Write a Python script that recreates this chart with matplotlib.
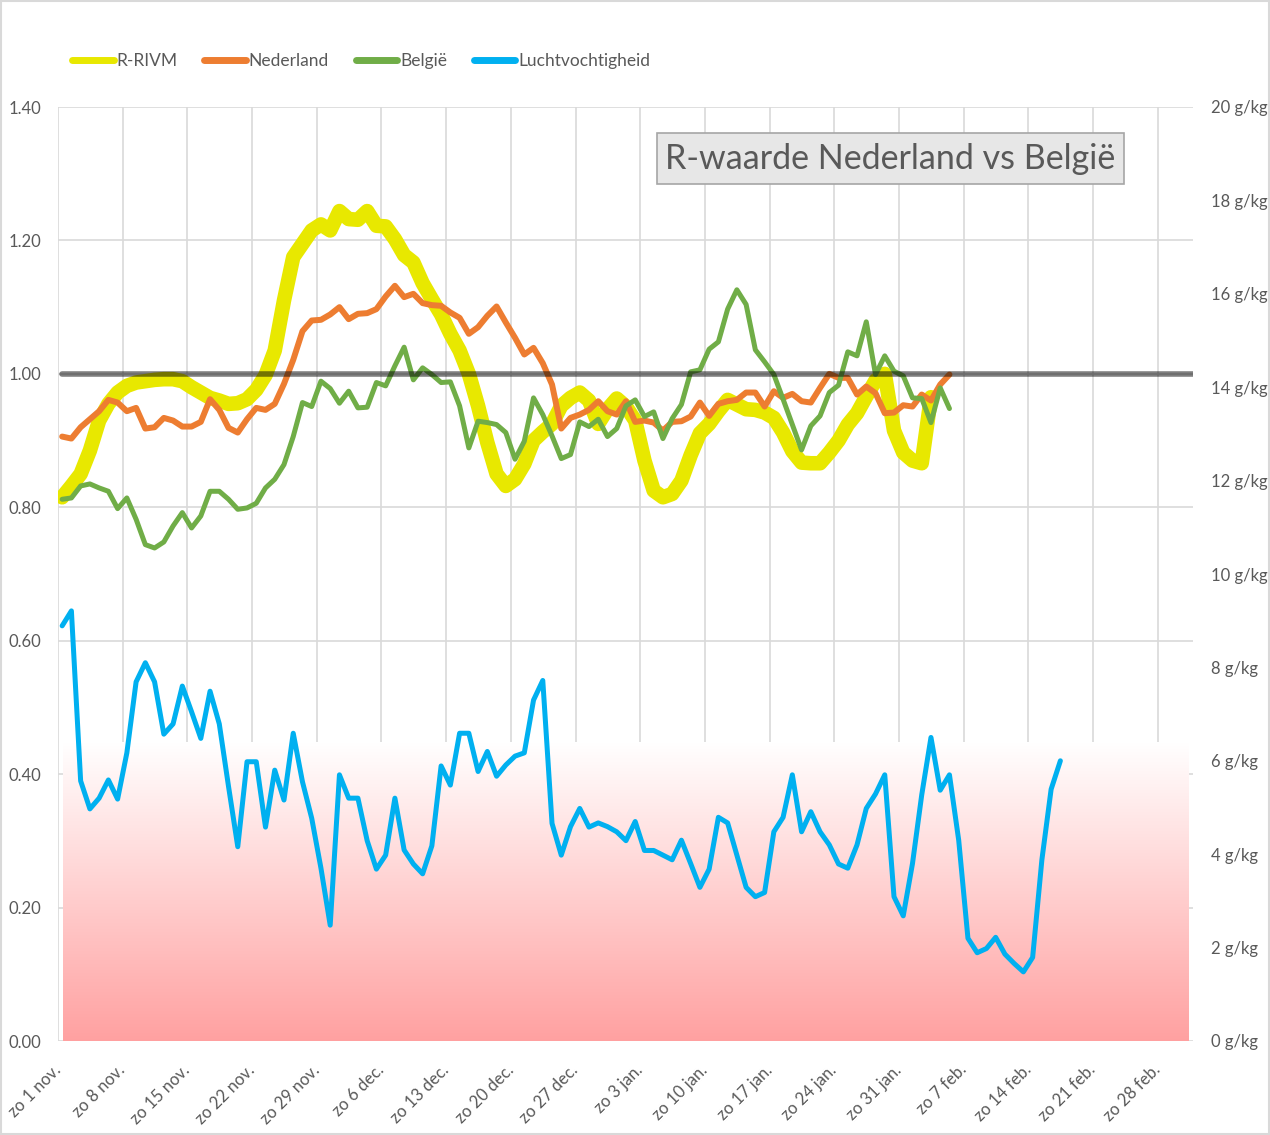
import numpy as np
import matplotlib
matplotlib.use('Agg')
import matplotlib.pyplot as plt
from matplotlib.lines import Line2D
from matplotlib.patches import Rectangle

plt.rcParams['font.family'] = ['Lato', 'DejaVu Sans']

# R-waarden per dag vanaf zo 1 nov.
r_rivm = [0.815, 0.832, 0.850, 0.885, 0.930, 0.955, 0.972, 0.982, 0.987, 0.989,
          0.991, 0.992, 0.992, 0.989, 0.980, 0.972, 0.964, 0.960, 0.955, 0.956,
          0.962, 0.976, 0.998, 1.035, 1.110, 1.175, 1.195, 1.215, 1.224, 1.215,
          1.244, 1.232, 1.231, 1.244, 1.222, 1.221, 1.202, 1.178, 1.167, 1.136,
          1.112, 1.089, 1.060, 1.035, 1.000, 0.952, 0.897, 0.850, 0.832, 0.842,
          0.865, 0.900, 0.913, 0.925, 0.952, 0.964, 0.972, 0.960, 0.925, 0.947,
          0.963, 0.951, 0.930, 0.870, 0.825, 0.815, 0.820, 0.840, 0.878, 0.911,
          0.925, 0.944, 0.961, 0.954, 0.947, 0.946, 0.942, 0.934, 0.912, 0.884,
          0.867, 0.866, 0.866, 0.882, 0.900, 0.924, 0.941, 0.966, 0.990, 1.000,
          0.915, 0.882, 0.870, 0.866, 0.965]

nederland = [0.906, 0.903, 0.920, 0.932, 0.944, 0.961, 0.957, 0.944, 0.949, 0.918,
             0.920, 0.934, 0.930, 0.921, 0.921, 0.928, 0.962, 0.946, 0.919, 0.912,
             0.932, 0.949, 0.946, 0.955, 0.985, 1.021, 1.064, 1.080, 1.081, 1.089,
             1.100, 1.082, 1.090, 1.091, 1.097, 1.116, 1.132, 1.115, 1.120, 1.106,
             1.103, 1.102, 1.092, 1.084, 1.060, 1.070, 1.087, 1.101, 1.077, 1.054,
             1.029, 1.039, 1.016, 0.984, 0.918, 0.934, 0.939, 0.946, 0.959, 0.944,
             0.939, 0.959, 0.928, 0.930, 0.927, 0.915, 0.928, 0.929, 0.936, 0.957,
             0.937, 0.955, 0.959, 0.961, 0.972, 0.972, 0.951, 0.974, 0.964, 0.970,
             0.959, 0.957, 0.979, 1.000, 0.994, 0.994, 0.969, 0.981, 0.971, 0.941,
             0.942, 0.953, 0.951, 0.969, 0.960, 0.984, 0.999]

belgie = [0.812, 0.814, 0.832, 0.835, 0.829, 0.824, 0.798, 0.814, 0.782, 0.744,
          0.739, 0.748, 0.772, 0.792, 0.769, 0.787, 0.824, 0.824, 0.812, 0.797,
          0.799, 0.806, 0.829, 0.842, 0.864, 0.906, 0.957, 0.951, 0.989, 0.978,
          0.956, 0.974, 0.949, 0.950, 0.987, 0.982, 1.012, 1.040, 0.991, 1.009,
          0.999, 0.987, 0.988, 0.952, 0.889, 0.929, 0.927, 0.924, 0.912, 0.872,
          0.899, 0.964, 0.939, 0.907, 0.873, 0.879, 0.928, 0.921, 0.932, 0.906,
          0.918, 0.952, 0.961, 0.936, 0.943, 0.903, 0.933, 0.954, 1.003, 1.006,
          1.037, 1.048, 1.097, 1.126, 1.104, 1.036, 1.018, 0.999, 0.962, 0.924,
          0.886, 0.922, 0.937, 0.972, 0.983, 1.033, 1.027, 1.078, 0.999, 1.027,
          1.004, 0.997, 0.964, 0.963, 0.927, 0.979, 0.948]

# luchtvochtigheid in g/kg
vocht = [8.89, 9.21, 5.57, 4.97, 5.20, 5.59, 5.18, 6.17, 7.69, 8.10,
         7.69, 6.57, 6.79, 7.60, 7.05, 6.48, 7.49, 6.79, 5.45, 4.16,
         5.98, 5.98, 4.58, 5.80, 5.16, 6.59, 5.55, 4.77, 3.70, 2.48,
         5.70, 5.20, 5.20, 4.29, 3.68, 3.98, 5.20, 4.09, 3.79, 3.58,
         4.18, 5.89, 5.48, 6.59, 6.59, 5.77, 6.20, 5.67, 5.91, 6.10,
         6.17, 7.30, 7.72, 4.66, 3.98, 4.59, 4.98, 4.58, 4.67, 4.59,
         4.48, 4.29, 4.70, 4.08, 4.08, 3.98, 3.88, 4.30, 3.80, 3.29,
         3.68, 4.79, 4.67, 3.98, 3.29, 3.09, 3.18, 4.48, 4.79, 5.70,
         4.48, 4.91, 4.48, 4.20, 3.79, 3.70, 4.20, 4.98, 5.29, 5.70,
         3.09, 2.68, 3.80, 5.27, 6.50, 5.37, 5.70, 4.30, 2.20, 1.89,
         1.98, 2.22, 1.86, 1.66, 1.48, 1.79, 3.88, 5.39, 6.00]

drempel = 1.0

week_labels = ['zo 1 nov.', 'zo 8 nov.', 'zo 15 nov.', 'zo 22 nov.', 'zo 29 nov.',
               'zo 6 dec.', 'zo 13 dec.', 'zo 20 dec.', 'zo 27 dec.', 'zo 3 jan.',
               'zo 10 jan.', 'zo 17 jan.', 'zo 24 jan.', 'zo 31 jan.', 'zo 7 feb.',
               'zo 14 feb.', 'zo 21 feb.', 'zo 28 feb.']

grey_txt = '#595959'
W, H = 1270, 1135
fig = plt.figure(figsize=(W / 100, H / 100), dpi=100)
ax = fig.add_axes([58 / W, 1 - 1041 / H, (1193 - 58) / W, (1041 - 107) / H])
ax2 = ax.twinx()

# roze achtergrond onderin
grad = np.linspace(0, 1, 256).reshape(-1, 1, 1)
top = np.array([1.0, 1.0, 1.0])
bottom = np.array([1.0, 0.63, 0.63])
img = top + (bottom - top) * grad
ax.imshow(img, extent=[0.55, 122.3, 0, 0.448], aspect='auto', origin='upper',
          zorder=1.5, interpolation='bilinear')

day = lambda n: np.arange(n) + 0.45

ax.plot(day(len(r_rivm)), r_rivm, color='#E8E800', lw=10.5,
        solid_joinstyle='round', solid_capstyle='round', zorder=3)
ax.plot(day(len(nederland)), nederland, color='#ED7D31', lw=4.3,
        solid_joinstyle='round', solid_capstyle='round', zorder=4)
ax.plot(day(len(belgie)), belgie, color='#70AD47', lw=3.6,
        solid_joinstyle='round', solid_capstyle='round', zorder=5)
ax.plot([0.45, 123.5], [drempel, drempel], color='black', alpha=0.5, lw=4,
        solid_capstyle='round', zorder=6)

ax2.plot(day(len(vocht)), vocht, color='#00B0F0', lw=3.6,
         solid_joinstyle='round', solid_capstyle='round', zorder=3)

ax.set_xlim(0, 122.8)
ax.set_ylim(0, 1.4)
ax2.set_ylim(0, 20)

ax.set_xticks(np.arange(0, 7 * len(week_labels), 7))
ax.set_xticklabels(week_labels, rotation=45, ha='right', va='center',
                   rotation_mode='anchor')
yt = np.arange(0, 1.41, 0.2)
ax.set_yticks(yt)
ax.set_yticklabels([f'{v:.2f}' for v in yt])
ax.grid(True, color='#D9D9D9', lw=1.2)
ax.set_axisbelow(True)
ax.tick_params(axis='x', length=0, pad=19, labelsize=12, labelcolor=grey_txt)
ax.tick_params(axis='y', length=0, pad=12, labelsize=12, labelcolor=grey_txt)

rt = np.arange(0, 21, 2)
ax2.set_yticks(rt)
ax2.set_yticklabels([f'{v} g/kg' for v in rt])
ax2.tick_params(axis='y', length=0, pad=13, labelsize=12, labelcolor=grey_txt)

for a in (ax, ax2):
    for s in a.spines.values():
        s.set_visible(False)

handles = [Line2D([], [], color=c, lw=5, solid_capstyle='round')
           for c in ['#E8E800', '#ED7D31', '#70AD47', '#00B0F0']]
fig.legend(handles, ['R-RIVM', 'Nederland', 'België', 'Luchtvochtigheid'],
           loc='center', bbox_to_anchor=(361 / W, 1 - 61 / H), ncol=4,
           frameon=False, fontsize=12.5, handlelength=2.4, handletextpad=0.15,
           columnspacing=1.55, labelcolor=grey_txt)

# titelkader
fig.patches.append(Rectangle((657 / W, 1 - 184 / H), 467 / W, 51 / H,
                             transform=fig.transFigure, facecolor='#E7E7E7',
                             edgecolor='#A6A6A6', lw=1.2, zorder=5))
fig.text(890.5 / W, 1 - 159 / H, 'R-waarde Nederland vs België', ha='center',
         va='center', fontsize=24.5, color=grey_txt, zorder=6)

fig.patches.append(Rectangle((0.001, 0.001), 0.998, 0.998, transform=fig.transFigure,
                             fill=False, edgecolor='#D9D9D9', lw=1.5))

fig.savefig('out.png', dpi=100)
